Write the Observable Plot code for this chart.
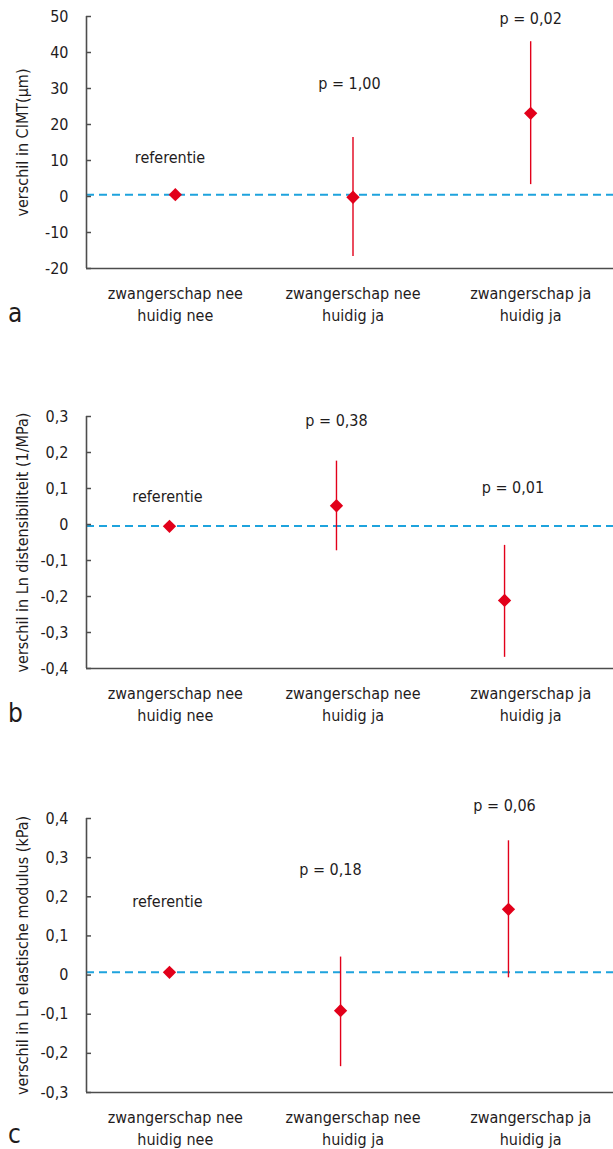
<!DOCTYPE html>
<html><head><meta charset="utf-8">
<script src="https://cdn.jsdelivr.net/npm/d3@7"></script>
<script src="https://cdn.jsdelivr.net/npm/@observablehq/plot@0.6"></script>
<style>
html,body{margin:0;padding:0;background:#fff;overflow:hidden;}
#wrap{position:relative;width:613px;height:1149px;overflow:hidden;}
.panel{position:absolute;left:0;}
.letter{position:absolute;left:8px;font-family:"DejaVu Sans Condensed","DejaVu Sans",sans-serif;font-stretch:condensed;font-size:26px;line-height:26px;color:#1f1c1d;}
</style></head><body><div id="wrap"></div>
<script>
// categories (x axis)
const categories = ["zwangerschap nee\nhuidig nee", "zwangerschap nee\nhuidig ja", "zwangerschap ja\nhuidig ja"];
const categoryPos = [0.5, 1.5, 2.5];

// panel a: CIMT
const aX = [0.5, 1.5, 2.5];
const aEst = [0.5, -0.2, 23.1];
const aLo = [null, -16.7, 3.3];
const aHi = [null, 16.4, 43.0];
const aRef = 0.5;
const aTicks = [-20, -10, 0, 10, 20, 30, 40, 50];
const aNotes = [{x: 0.47, y: 10.8, t: "referentie"}, {x: 1.48, y: 31.4, t: "p = 1,00"}, {x: 2.5, y: 49.4, t: "p = 0,02"}];

// panel b: distensibiliteit
const bX = [0.467, 1.407, 2.353];
const bEst = [-0.005, 0.052, -0.211];
const bLo = [null, -0.073, -0.369];
const bHi = [null, 0.176, -0.058];
const bRef = -0.004;
const bTicks = [-0.4, -0.3, -0.2, -0.1, 0, 0.1, 0.2, 0.3];
const bNotes = [{x: 0.456, y: 0.078, t: "referentie"}, {x: 1.407, y: 0.289, t: "p = 0,38"}, {x: 2.40, y: 0.103, t: "p = 0,01"}];

// panel c: elastische modulus
const cX = [0.467, 1.43, 2.375];
const cEst = [0.007, -0.091, 0.168];
const cLo = [null, -0.234, -0.007];
const cHi = [null, 0.046, 0.343];
const cRef = 0.007;
const cTicks = [-0.3, -0.2, -0.1, 0, 0.1, 0.2, 0.3, 0.4];
const cNotes = [{x: 0.456, y: 0.186, t: "referentie"}, {x: 1.373, y: 0.268, t: "p = 0,18"}, {x: 2.353, y: 0.431, t: "p = 0,06"}];

const FONT = '"DejaVu Sans Condensed","DejaVu Sans",sans-serif';
const RED = "#e2001a", BLUE = "#1ea3dd", AXIS = "#4d4d4d", INK = "#1f1c1d";
const fmtComma = d => d === 0 ? "0" : String(d).replace(".", ",");
const catMap = new Map(categoryPos.map((p, i) => [p, categories[i]]));

function panel({xs, est, lo, hi, ref, ticks, fmt, ylabel, notes, height, mt, mb}) {
  const data = est.map((v, i) => ({x: xs[i], y: v, lo: lo[i], hi: hi[i]}));
  const domain = [ticks[0], ticks[ticks.length - 1]];
  return Plot.plot({
    width: 613, height, marginTop: mt, marginBottom: mb, marginLeft: 86, marginRight: 0,
    style: {fontFamily: FONT, fontStretch: "condensed", fontSize: "16px", color: INK, background: "transparent"},
    x: {type: "linear", domain: [0, 3], range: [86, 619]},
    y: {domain},
    marks: [
      Plot.ruleY([ref], {stroke: BLUE, strokeWidth: 2, strokeDasharray: "8,5"}),
      Plot.ruleX(data.filter(d => d.lo != null), {x: "x", y1: "lo", y2: "hi", stroke: RED, strokeWidth: 1.4}),
      Plot.dot(data, {x: "x", y: "y", symbol: "diamond2", fill: RED, stroke: "none", r: 6}),
      Plot.text(notes, {x: "x", y: "y", text: "t", fill: INK, fontSize: 16}),
      Plot.axisY(ticks, {tickSize: -5, tickPadding: 23, tickFormat: fmt, stroke: AXIS, strokeWidth: 1.5, fill: INK, fontSize: 16, label: null}),
      Plot.ruleX([0], {stroke: AXIS, strokeWidth: 1.6}),
      Plot.ruleY([domain[0]], {stroke: AXIS, strokeWidth: 1.6}),
      Plot.axisX(categoryPos, {tickSize: 0, tickPadding: 15, tickFormat: d => catMap.get(d), lineHeight: 1.38, fill: INK, fontSize: 16, label: null}),
      Plot.text([ylabel], {frameAnchor: "left", textAnchor: "middle", rotate: -90, dx: -64, text: d => d, fill: INK, fontSize: 16})
    ]
  });
}

const wrap = document.getElementById("wrap");
const specs = [
  {top: 0, letter: "a", letterTop: 300, xs: aX, est: aEst, lo: aLo, hi: aHi, ref: aRef, ticks: aTicks, fmt: d => String(d), ylabel: "verschil in CIMT(µm)", notes: aNotes, height: 340, mt: 16, mb: 72},
  {top: 340, letter: "b", letterTop: 700, xs: bX, est: bEst, lo: bLo, hi: bHi, ref: bRef, ticks: bTicks, fmt: fmtComma, ylabel: "verschil in Ln distensibiliteit (1/MPa)", notes: bNotes, height: 400, mt: 76, mb: 72},
  {top: 740, letter: "c", letterTop: 1121, xs: cX, est: cEst, lo: cLo, hi: cHi, ref: cRef, ticks: cTicks, fmt: fmtComma, ylabel: "verschil in Ln elastische modulus (kPa)", notes: cNotes, height: 409, mt: 78, mb: 57}
];
for (const s of specs) {
  const div = document.createElement("div");
  div.className = "panel";
  div.style.top = s.top + "px";
  div.appendChild(panel(s));
  wrap.appendChild(div);
  const l = document.createElement("div");
  l.className = "letter";
  l.style.top = s.letterTop + "px";
  l.textContent = s.letter;
  wrap.appendChild(l);
}
</script></body></html>
